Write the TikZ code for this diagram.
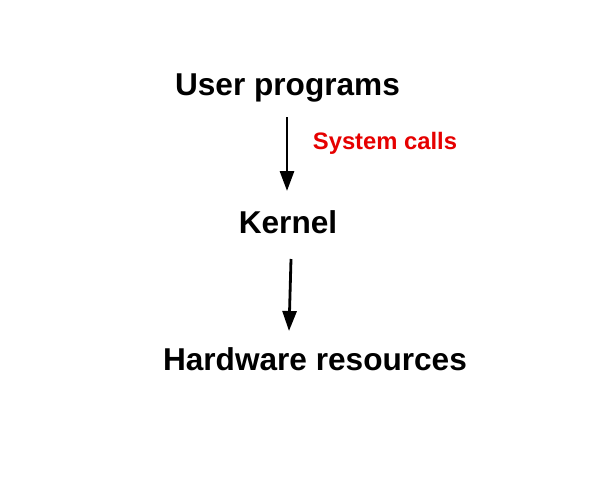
\documentclass[tikz,border=0pt]{standalone}
\usepackage{fontspec}
\setmainfont{Liberation Sans}
\usetikzlibrary{arrows.meta}
\definecolor{callred}{RGB}{230,0,0}
\begin{document}
\begin{tikzpicture}[x=1pt,y=-1pt,
  lbl/.style={font=\bfseries\fontsize{31.6}{36}\selectfont, inner sep=0pt},
  sublbl/.style={font=\bfseries\fontsize{23.8}{28}\selectfont, text=callred, inner sep=0pt},
  arr/.style={line width=2.8pt, -{Triangle[length=20pt,width=14pt]}}]
\useasboundingbox[fill=white] (0,0) rectangle (611,485);
\node[lbl] (user) at (287.5,88) {User programs};
\node[sublbl] (sys) at (385,143) {System calls};
\node[lbl] (kernel) at (288,222) {Kernel};
\node[lbl] (hw) at (315,359) {Hardware resources};
\coordinate (a1s) at (287,117);
\coordinate (a1e) at (287,191);
\coordinate (a2s) at (291,259);
\coordinate (a2e) at (289,331);
\draw[arr] (a1s) -- (a1e);
\draw[arr] (a2s) -- (a2e);
\end{tikzpicture}
\end{document}
